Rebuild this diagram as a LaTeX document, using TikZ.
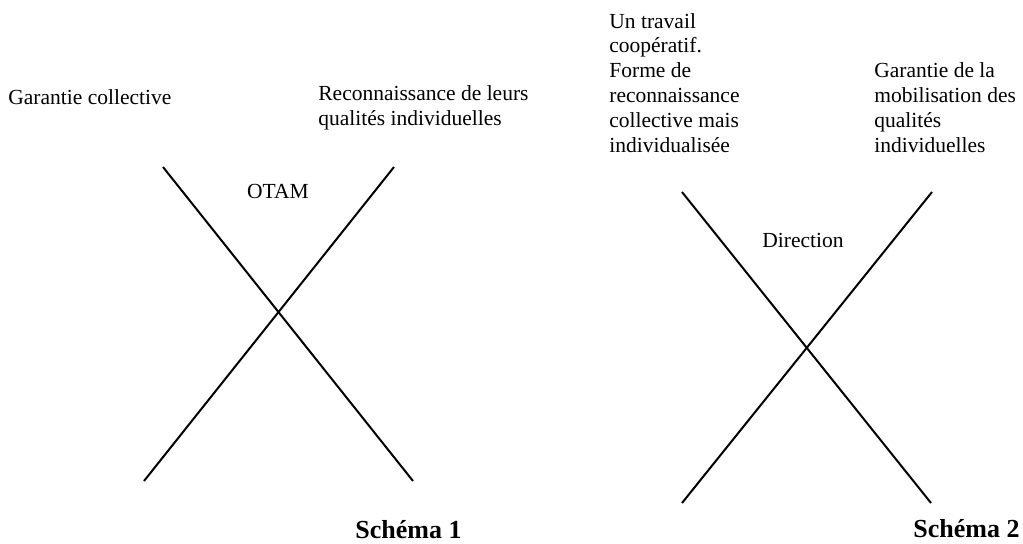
\documentclass[tikz,border=0pt]{standalone}
\usepackage{fontspec}
\setmainfont{Liberation Serif}
\tikzset{
    crosstext/.style={anchor=base west, inner sep=0pt, align=left, font=\fontsize{10.75pt}{12.4pt}\selectfont},
    crosstitle/.style={anchor=base, inner sep=0pt, font=\fontsize{10.75pt}{12.4pt}\selectfont},
    schematitle/.style={anchor=base west, inner sep=0pt, font=\fontsize{13pt}{15pt}\selectfont\bfseries},
    crossline/.style={line width=1pt},
}
\begin{document}
\begin{tikzpicture}[x=0.5pt, y=-0.5pt]
            \useasboundingbox (0, 0) rectangle (1023, 543);
            % Schema 1 (multi-line texts sit on their last baseline):
            \node[crosstext] (garcoll) at (8, 104){Garantie collective};
            \node[crosstext] (reconn) at (318, 125){Reconnaissance de leurs\\qualités individuelles};
            \node[crosstitle] (otam) at (278, 198){OTAM};
            \coordinate (ua) at (163, 167);
            \coordinate (ub) at (394, 167);
            \coordinate (uc) at (413, 481);
            \coordinate (ud) at (144, 481);
            \draw[crossline] (ua) -- (uc);
            \draw[crossline] (ub) -- (ud);
            \node[schematitle] (schema1) at (355, 538){Schéma 1};
            % Schema 2:
            \node[crosstext] (travail) at (609, 152){Un travail\\coopératif.\\Forme de\\reconnaissance\\collective mais\\individualisée};
            \node[crosstext] (mobil) at (874, 152){Garantie de la\\mobilisation des\\qualités\\individuelles};
            \node[crosstitle] (direction) at (803, 247){Direction};
            \coordinate (da) at (682, 192);
            \coordinate (db) at (932, 192);
            \coordinate (dc) at (931, 503);
            \coordinate (dd) at (682, 503);
            \draw[crossline] (da) -- (dc);
            \draw[crossline] (db) -- (dd);
            \node[schematitle] (schema2) at (913, 537){Schéma 2};
\end{tikzpicture}
\end{document}
